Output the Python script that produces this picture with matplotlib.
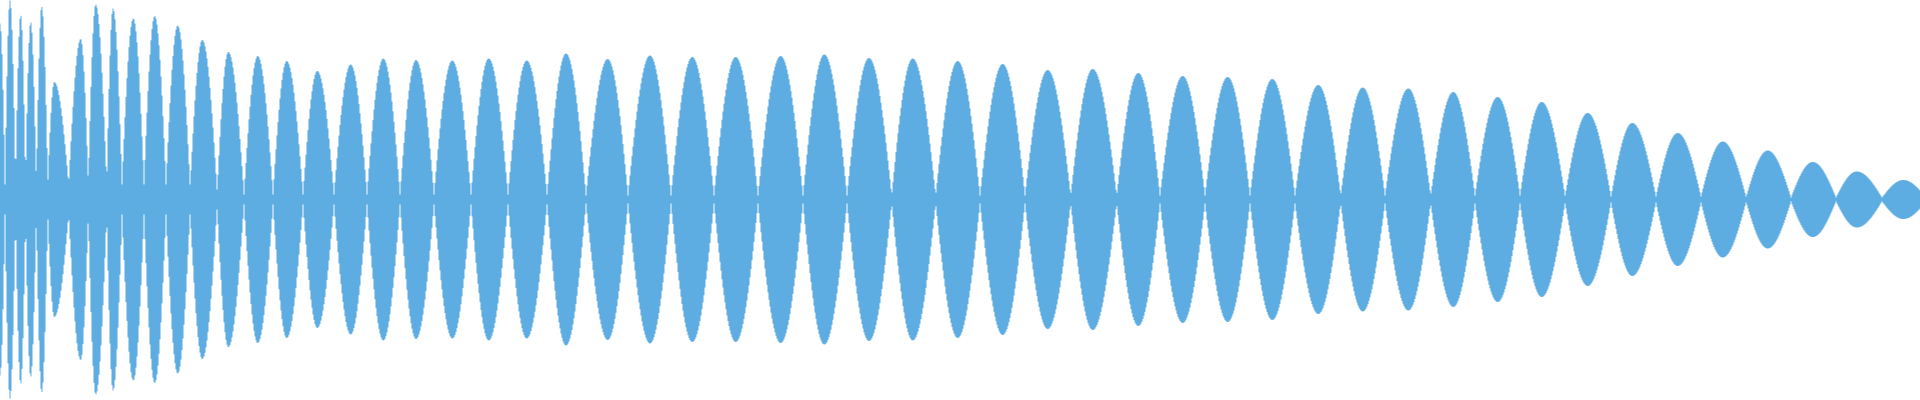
import numpy as np
import matplotlib
matplotlib.use("Agg")
import matplotlib.pyplot as plt

# Lobe boundaries (sample position), peak positions, peak amplitudes and neck (floor) amplitudes
lobe_bounds = [-5, 5, 15.5, 25.5, 36.3, 47.8, 68.7, 88.3, 106.7, 122, 144, 166, 190, 217,
               244, 273, 303, 334, 367, 400, 434, 471, 508, 547, 586, 628, 671, 714, 758,
               803, 847, 891.7, 935.7, 980, 1025, 1070.7, 1116.7, 1160, 1205, 1250, 1295,
               1340.7, 1385, 1430.7, 1475, 1520, 1565, 1611, 1656, 1701, 1746, 1791, 1836,
               1882, 1926]
lobe_peaks = [0, 10, 20.7, 30.7, 41.7, 54.3, 80.7, 95.7, 113, 133.3, 154.7, 177.7, 202.3,
              228.3, 257.7, 286.7, 317.3, 350.7, 383.3, 416, 452.3, 488.7, 526.7, 566,
              607.7, 650, 692.3, 735.7, 780.7, 824.3, 869, 912.7, 957.7, 1002.7, 1047.7,
              1092.7, 1138.3, 1182.7, 1227.7, 1272.3, 1318.3, 1362.7, 1408.3, 1453.3,
              1497.7, 1541.7, 1587.7, 1632.3, 1677.7, 1722.7, 1767.7, 1812.7, 1856.7, 1903.3]
lobe_amps = [176, 199, 184.5, 177.5, 193, 117.5, 160.5, 195, 191, 181, 183.5, 174, 159.5,
             147.5, 143.5, 138.5, 128.5, 135, 141, 139.5, 139, 141, 139, 146, 140.5, 144,
             142.5, 142.5, 143.5, 145, 141.5, 141, 138.5, 135.5, 129.5, 130.5, 126.5,
             123.5, 122.5, 120.5, 114.5, 112, 111, 107.5, 102.5, 97.5, 86.5, 76.5, 66.5,
             58, 49, 37.5, 28, 19.5]
lobe_floor = [15] * 12 + [10] + [5] * 10 + [4] * 23 + [3] * 4 + [2] * 4

COLOR = "#5DADE2"

fig = plt.figure(figsize=(19.2, 4.0), dpi=100)
ax = fig.add_axes([0, 0, 1, 1])

x = np.arange(-5, 1930, 1.0)
env = np.zeros_like(x)
for i in range(len(lobe_peaks)):
    s, e = lobe_bounds[i], lobe_bounds[i + 1]
    p, a, f = lobe_peaks[i], lobe_amps[i], lobe_floor[i]
    left = (x >= s) & (x <= p)
    right = (x > p) & (x <= e)
    tl = (x[left] - s) / max(p - s, 1e-6)
    tr = (e - x[right]) / max(e - p, 1e-6)
    env[left] = np.maximum(env[left], f + (a - f) * np.sin(np.pi / 2 * tl))
    env[right] = np.maximum(env[right], f + (a - f) * np.sin(np.pi / 2 * tr))

ax.fill_between(x, -env, env, step="mid", color=COLOR, linewidth=0)
ax.set_xlim(0, 1920)
ax.set_ylim(-200.5, 199.5)
ax.axis("off")
fig.savefig("out.png", dpi=100, facecolor="white")
